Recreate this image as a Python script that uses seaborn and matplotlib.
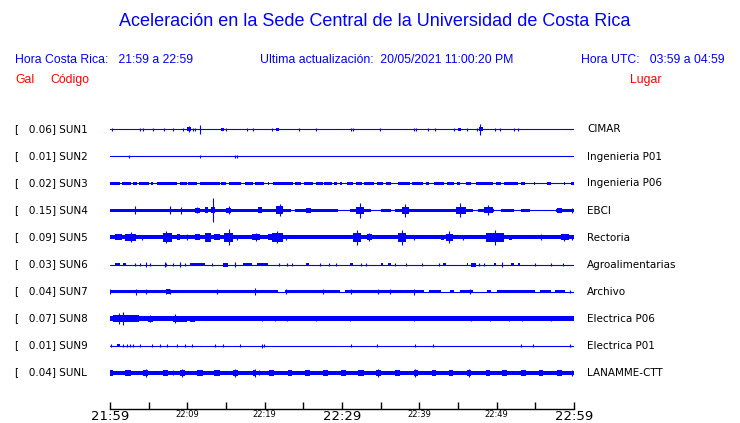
#!/usr/bin/env python3
# coding=utf-8
from matplotlib import pyplot as plt
from matplotlib import transforms
import pandas as pd
import seaborn as sns

# acceleration traces, one row per station (time in minutes since 21:59)
STATIONS = ["SUN1", "SUN2", "SUN3", "SUN4", "SUN5", "SUN6", "SUN7", "SUN8", "SUN9", "SUNL"]
PEAKS = [0.06, 0.01, 0.02, 0.15, 0.09, 0.03, 0.04, 0.07, 0.01, 0.04]
PLACES = ["CIMAR", "Ingenieria P01", "Ingenieria P06", "EBCI", "Rectoria",
          "Agroalimentarias", "Archivo", "Electrica P06", "Electrica P01", "LANAMME-CTT"]
TICK_MIN = [0, 5, 10, 15, 20, 25, 30, 35, 40, 45, 50, 55, 60]
TICK_LABELS = ["21:59", "", "22:09", "", "22:19", "", "22:29", "", "22:39", "", "22:49", "", "22:59"]
BIG_TICKS = ["21:59", "22:29", "22:59"]

# blocks: (start, end, half amplitude), spikes: (time, half amplitude)
SUN1_BLOCKS = [(9.9, 10.5, 2.0), (14.4, 14.8, 1.5), (21.5, 21.9, 1.5), (45.0, 45.4, 1.5),
               (47.7, 48.2, 2.0)]
SUN1_SPIKES = [(0.3, 1.5), (3.9, 1.5), (4.3, 1.5), (5.5, 1.2), (7.0, 1.2), (8.2, 1.2), (9.5, 1.2),
               (10.2, 3.0), (10.75, 1.5), (11.0, 1.5), (11.7, 4.5), (15.0, 1.5), (17.7, 1.2),
               (18.5, 1.2), (20.9, 1.5), (24.4, 1.5), (26.6, 1.2), (31.2, 1.5), (31.4, 1.5),
               (34.9, 1.5), (39.3, 1.2), (39.6, 1.5), (41.1, 1.5), (42.0, 1.5), (44.5, 1.5),
               (46.1, 1.2), (47.4, 1.5), (47.9, 5.3), (49.8, 1.2), (50.4, 1.2), (52.3, 1.5),
               (52.8, 1.5)]

SUN2_BLOCKS = []
SUN2_SPIKES = [(2.5, 1.2), (11.7, 1.2), (16.2, 1.5), (16.4, 1.2)]

SUN3_BLOCKS = [(0.0, 1.3, 1.5), (1.5, 2.7, 1.5), (3.0, 3.5, 1.5), (3.8, 5.1, 1.5), (5.3, 5.6, 1.5),
               (6.1, 8.7, 1.5), (9.0, 9.9, 1.5), (10.1, 11.3, 1.5), (11.6, 14.2, 1.5),
               (14.4, 15.0, 1.5), (15.4, 17.0, 1.5), (17.4, 18.5, 1.5), (18.8, 19.9, 1.5),
               (20.4, 20.6, 1.5), (21.1, 23.7, 1.5), (23.9, 24.7, 1.5), (25.1, 26.2, 1.5),
               (26.7, 27.5, 1.5), (27.7, 28.7, 1.5), (29.0, 29.4, 1.5), (29.8, 30.0, 1.5),
               (30.6, 31.4, 1.5), (31.8, 32.6, 1.5), (32.9, 34.1, 1.5), (34.5, 35.3, 1.5),
               (35.7, 36.4, 1.5), (37.2, 38.8, 1.5), (39.1, 40.5, 1.5), (40.9, 41.3, 1.5),
               (41.9, 43.2, 1.5), (43.6, 44.5, 1.5), (44.9, 45.3, 1.5), (46.0, 46.7, 1.5),
               (47.3, 49.5, 1.5), (49.9, 50.5, 1.5), (51.0, 52.7, 1.5), (53.1, 53.6, 1.5),
               (54.8, 55.0, 1.5), (56.5, 57.0, 1.5), (58.7, 58.9, 1.5), (59.6, 60.0, 1.5)]
SUN3_SPIKES = []

SUN4_BLOCKS = [(0.0, 23.4, 1.8), (23.9, 29.5, 1.8), (31.0, 33.8, 1.8), (35.0, 36.3, 1.8),
               (36.8, 47.0, 1.8), (47.6, 49.7, 1.8), (50.6, 52.3, 1.8), (53.1, 54.3, 1.8),
               (57.7, 60.0, 1.8), (11.0, 11.6, 2.5), (12.3, 12.7, 3.0), (13.0, 13.6, 3.0),
               (15.0, 15.7, 2.5), (19.1, 19.6, 3.0), (21.5, 22.4, 4.0), (25.4, 26.0, 2.5),
               (31.8, 32.9, 3.5), (37.8, 38.7, 3.5), (44.7, 46.0, 3.5), (48.4, 49.5, 3.0),
               (57.8, 58.5, 2.5)]
SUN4_SPIKES = [(3.2, 4.0), (7.7, 3.0), (7.8, 4.0), (9.2, 3.5), (11.3, 3.0), (13.3, 12.0),
               (15.4, 4.0), (22.0, 6.0), (32.3, 7.5), (38.2, 6.5), (45.3, 7.0), (48.9, 5.0),
               (59.8, 2.5)]

SUN5_BLOCKS = [(0.0, 60.0, 2.0), (0.6, 1.5, 3.0), (1.9, 3.4, 3.5), (6.9, 8.0, 4.0), (8.6, 9.0, 3.0),
               (11.0, 11.6, 3.0), (12.3, 13.1, 4.0), (13.5, 14.2, 3.0), (14.8, 15.9, 4.5),
               (18.3, 19.4, 3.0), (20.4, 20.9, 3.0), (20.9, 22.4, 4.5), (31.4, 32.5, 4.0),
               (33.2, 33.9, 3.0), (37.2, 38.3, 4.0), (42.8, 43.2, 2.5), (43.4, 44.3, 3.5),
               (48.6, 51.0, 4.0), (51.6, 52.0, 2.5), (58.3, 59.3, 3.0)]
SUN5_SPIKES = [(2.7, 5.0), (4.1, 2.5), (7.3, 6.0), (9.9, 3.0), (15.4, 8.0), (16.4, 2.5), (18.9, 4.0),
               (21.6, 6.0), (22.8, 2.5), (32.0, 7.0), (33.5, 4.0), (37.8, 7.0), (39.3, 2.5),
               (43.8, 6.0), (45.6, 2.5), (49.8, 7.0), (55.7, 3.0), (58.7, 3.5), (59.8, 2.5)]

SUN6_BLOCKS = [(0.6, 1.3, 1.5), (1.7, 2.1, 1.5), (10.3, 12.3, 1.5), (14.6, 15.2, 2.0),
               (17.2, 18.3, 1.5), (19.0, 20.4, 1.5), (25.4, 25.7, 1.5), (31.0, 31.4, 1.5),
               (35.0, 35.3, 1.5), (35.9, 36.4, 1.5), (43.1, 43.4, 1.5), (46.1, 46.3, 1.5),
               (46.7, 47.3, 2.0), (49.7, 49.9, 1.5), (51.8, 52.2, 1.5), (52.7, 53.0, 1.5)]
SUN6_SPIKES = [(3.2, 1.5), (3.9, 1.5), (4.7, 2.5), (5.2, 1.5), (7.1, 2.5), (7.3, 1.5), (8.2, 1.5),
               (9.0, 2.5), (9.7, 1.5), (13.2, 1.5), (16.2, 2.5), (21.9, 1.5), (22.9, 1.5),
               (23.5, 1.2), (27.2, 1.2), (28.3, 1.5), (29.2, 1.2), (32.4, 1.5), (33.1, 1.5),
               (36.9, 1.2), (38.3, 1.5), (40.4, 1.5), (42.5, 1.2), (47.7, 1.5), (48.4, 1.5),
               (50.7, 2.5), (55.0, 1.5), (57.0, 1.2), (58.6, 1.5)]

SUN7_BLOCKS = [(0.0, 21.7, 1.8), (22.6, 29.8, 1.8), (30.4, 40.6, 1.8), (41.2, 42.8, 1.8),
               (44.0, 44.5, 1.8), (45.3, 47.0, 1.8), (48.8, 49.3, 1.8), (50.1, 55.0, 1.8),
               (55.6, 57.0, 1.8), (57.6, 58.8, 1.8), (7.3, 7.7, 2.3)]
SUN7_SPIKES = [(0.0, 2.5), (3.4, 3.0), (4.7, 2.5), (7.3, 2.5), (7.7, 2.5), (13.8, 2.5), (18.8, 3.5),
               (22.8, 2.5), (27.6, 2.5), (31.2, 2.5), (34.6, 2.5), (36.2, 2.5), (39.3, 3.0),
               (46.5, 2.5), (59.5, 1.5)]

SUN8_BLOCKS = [(0.0, 60.0, 2.2), (0.4, 3.7, 3.5), (4.9, 5.6, 3.0), (8.2, 9.9, 3.0), (10.3, 11.0, 3.0),
               (11.2, 12.3, 2.8), (13.3, 14.2, 2.8), (14.4, 17.2, 2.8), (24.0, 25.2, 2.5),
               (54.2, 55.7, 2.8)]
SUN8_SPIKES = [(1.1, 5.5), (1.7, 6.5), (5.2, 3.5), (8.4, 4.5), (19.7, 2.8), (21.3, 2.8), (22.9, 2.8),
               (26.7, 2.8), (31.0, 2.8), (39.3, 2.8), (46.7, 2.8), (49.2, 2.8), (51.6, 2.8),
               (53.3, 2.8), (57.0, 2.8)]

SUN9_BLOCKS = [(0.9, 1.3, 1.3)]
SUN9_SPIKES = [(0.1, 1.5), (1.7, 1.5), (2.2, 1.5), (2.6, 1.5), (3.0, 1.5), (3.9, 1.5), (5.4, 1.5),
               (6.5, 1.5), (7.4, 1.5), (8.6, 1.5), (9.7, 1.5), (10.6, 1.5), (13.6, 1.5), (14.6, 1.5),
               (16.8, 1.5), (19.6, 2.0), (19.9, 1.5), (31.2, 1.5), (34.5, 1.5), (39.5, 1.5),
               (41.8, 1.5), (53.2, 1.5), (54.7, 1.5), (59.5, 1.5)]

SUNL_BLOCKS = [(0.0, 60.0, 2.0), (0.0, 0.4, 3.0), (2.0, 2.7, 3.0), (4.3, 4.9, 3.0), (6.8, 7.5, 3.0),
               (9.0, 9.7, 3.0), (11.3, 12.0, 3.0), (13.5, 14.2, 3.0), (15.9, 16.6, 3.0),
               (18.5, 18.9, 3.0), (20.5, 21.2, 3.0), (23.0, 23.5, 3.0), (25.2, 25.8, 3.0),
               (27.5, 28.2, 3.0), (29.9, 30.5, 3.0), (32.1, 32.8, 3.0), (34.4, 35.1, 3.0),
               (36.9, 37.5, 3.0), (39.3, 39.8, 3.0), (41.6, 42.1, 3.0), (43.9, 44.4, 3.0),
               (46.1, 46.7, 3.0), (48.6, 49.1, 3.0), (50.7, 51.4, 3.0), (53.1, 53.8, 3.0),
               (55.5, 56.0, 3.0), (57.8, 58.4, 3.0)]
SUNL_SPIKES = [(4.6, 4.0), (8.2, 2.5), (9.3, 4.0), (16.2, 4.0), (18.7, 4.0), (19.3, 2.5),
               (34.7, 4.0), (39.5, 4.0), (46.4, 4.0), (59.8, 3.0)]

BLOCKS = [SUN1_BLOCKS, SUN2_BLOCKS, SUN3_BLOCKS, SUN4_BLOCKS, SUN5_BLOCKS,
          SUN6_BLOCKS, SUN7_BLOCKS, SUN8_BLOCKS, SUN9_BLOCKS, SUNL_BLOCKS]
SPIKES = [SUN1_SPIKES, SUN2_SPIKES, SUN3_SPIKES, SUN4_SPIKES, SUN5_SPIKES,
          SUN6_SPIKES, SUN7_SPIKES, SUN8_SPIKES, SUN9_SPIKES, SUNL_SPIKES]

BLUE = "#0000ff"
RED = "#ff0000"
AMP = 1 / 27  # amplitude units -> row spacing


def draw_trace(ax, row, blocks, spikes):
    """
    Draw one station trace as filled blocks and vertical spikes
    """
    if blocks:
        b = pd.DataFrame(blocks, columns=['t0', 't1', 'h'])
        ax.bar(b['t0'], 2 * b['h'] * AMP, width=b['t1'] - b['t0'], bottom=row - b['h'] * AMP,
               align='edge', color=BLUE, linewidth=0, antialiased=False)
    if spikes:
        s = pd.DataFrame(spikes, columns=['t', 'h'])
        ax.vlines(s['t'], row - s['h'] * AMP, row + s['h'] * AMP, color=BLUE, linewidth=0.8)


def main():
    sns.set_style('white')
    plt.rcParams['font.family'] = ['DejaVu Sans']

    W, H = 740, 423
    fig = plt.figure(figsize=(W / 100, H / 100), dpi=100)
    # rows sit on pixel centres so the 1 px baselines stay crisp
    ax = fig.add_axes([110 / W, 14 / H, 464 / W, (409 - 116) / H])

    base = pd.DataFrame({
        'station': [s for s in STATIONS for _ in range(2)],
        't': [TICK_MIN[0], TICK_MIN[-1]] * len(STATIONS),
        'row': [i for i in range(len(STATIONS)) for _ in range(2)],
    })
    sns.lineplot(data=base, x='t', y='row', units='station', estimator=None,
                 color=BLUE, linewidth=0.8, ax=ax, legend=False)

    for i in range(len(STATIONS)):
        draw_trace(ax, i, BLOCKS[i], SPIKES[i])

    ax.set_xlim(TICK_MIN[0], TICK_MIN[-1])
    ax.set_ylim((409 - 116) / 27 - 0.5, -0.5)
    ax.set_xlabel('')
    ax.set_ylabel('')
    ax.set_yticks([])
    ax.set_xticks(TICK_MIN)
    ax.set_xticklabels(TICK_LABELS)
    for lab in ax.get_xticklabels():
        lab.set_fontsize(9.5 if lab.get_text() in BIG_TICKS else 6)
    ax.tick_params(axis='x', direction='in', length=5, width=1, color='black', pad=1,
                   labelcolor='black', bottom=True)
    for side in ['top', 'left', 'right']:
        ax.spines[side].set_visible(False)
    ax.spines['bottom'].set_color('black')
    ax.spines['bottom'].set_linewidth(1)
    ax.patch.set_alpha(0)

    # station labels
    trans = transforms.blended_transform_factory(fig.transFigure, ax.transData)
    for i, (st, pk, pl) in enumerate(zip(STATIONS, PEAKS, PLACES)):
        ax.text(15 / W, i, f"[   {pk:.2f}] {st}", transform=trans, fontsize=7.5,
                va='center', ha='left', color='black')
        ax.text(587 / W, i, pl, transform=trans, fontsize=7.5, va='center', ha='left',
                color='black')

    head = dict(family=['Liberation Sans', 'DejaVu Sans'], va='center')
    fig.text(375 / W, 1 - 21 / H, "Aceleración en la Sede Central de la Universidad de Costa Rica",
             ha='center', fontsize=13, color=BLUE, **head)
    fig.text(15 / W, 1 - 60 / H, "Hora Costa Rica:   21:59 a 22:59", ha='left', fontsize=8.8,
             color=BLUE, **head)
    fig.text(260 / W, 1 - 60 / H, "Ultima actualización:  20/05/2021 11:00:20 PM", ha='left',
             fontsize=8.8, color=BLUE, **head)
    fig.text(725 / W, 1 - 60 / H, "Hora UTC:   03:59 a 04:59", ha='right', fontsize=8.8,
             color=BLUE, **head)
    fig.text(15 / W, 1 - 80 / H, "Gal", ha='left', fontsize=8.8, color=RED, **head)
    fig.text(50 / W, 1 - 80 / H, "Código", ha='left', fontsize=8.8, color=RED, **head)
    fig.text(630 / W, 1 - 80 / H, "Lugar", ha='left', fontsize=8.8, color=RED, **head)

    fig.savefig('out.png', dpi=100, facecolor='white')


if __name__ == "__main__":
    main()
